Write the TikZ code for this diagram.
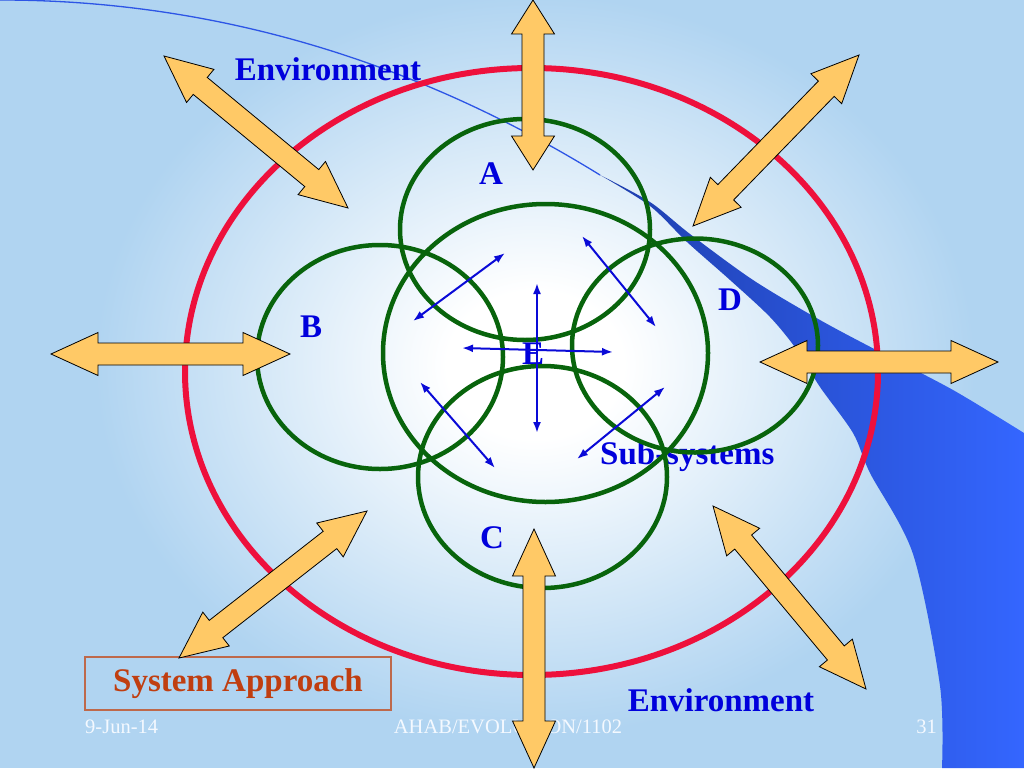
\documentclass[tikz,border=0pt]{standalone}
\usepackage{fontspec}
\setmainfont{Liberation Serif}
\usetikzlibrary{calc,arrows.meta}
\definecolor{bgblue}{RGB}{176,212,241}
\definecolor{ringred}{RGB}{238,16,60}
\definecolor{ringgreen}{RGB}{8,100,12}
\definecolor{arrfill}{RGB}{255,201,102}
\definecolor{lblblue}{RGB}{0,0,220}
\definecolor{smallblue}{RGB}{10,10,215}
\definecolor{banddark}{RGB}{30,62,172}
\definecolor{bandbright}{RGB}{52,102,255}
\definecolor{thinblue}{RGB}{45,85,230}
\definecolor{sysred}{RGB}{192,62,16}
\definecolor{sysbox}{RGB}{190,105,75}
\definecolor{footcol}{RGB}{244,249,255}
\pgfdeclareradialshading{bgglow}{\pgfpoint{0bp}{0bp}}{color(0bp)=(white); color(5bp)=(white); color(25bp)=(bgblue); color(50bp)=(bgblue)}
\tikzset{
  lbl/.style={text=lblblue, font=\bfseries\fontsize{33}{36}\selectfont, inner sep=0pt, anchor=base},
  foot/.style={text=footcol, font=\fontsize{20.5}{22}\selectfont, inner sep=0pt, anchor=base},
  redring/.style={draw=ringred, line width=6pt},
  greenring/.style={draw=ringgreen, line width=4.5pt},
  fatarrow/.style={fill=arrfill, draw=black, line width=0.8pt, line join=miter},
  smallarr/.style={draw=smallblue, line width=2pt, {Latex[length=11pt,width=8pt]}-{Latex[length=11pt,width=8pt]}},
}
\newcommand{\fatarrow}[3][47pt]{%
  \filldraw[fatarrow] (#2) -- ($(#2)!#1!(#3)!21.5pt!90:(#3)$) -- ($(#2)!#1!(#3)!11pt!90:(#3)$)
   -- ($(#3)!#1!(#2)!11pt!-90:(#2)$) -- ($(#3)!#1!(#2)!21.5pt!-90:(#2)$) -- (#3)
   -- ($(#3)!#1!(#2)!21.5pt!90:(#2)$) -- ($(#3)!#1!(#2)!11pt!90:(#2)$)
   -- ($(#2)!#1!(#3)!11pt!-90:(#3)$) -- ($(#2)!#1!(#3)!21.5pt!-90:(#3)$) -- cycle;}
\begin{document}
\begin{tikzpicture}[x=1pt,y=-1pt]
\useasboundingbox (0,0) rectangle (1024,768);
\clip (0,0) rectangle (1024,768);
% background
\fill[bgblue] (0,0) rectangle (1024,768);
\shade[shading=bgglow] (535,365) ellipse [x radius=440, y radius=370];
% swoosh
\draw[thinblue, line width=1.3pt] (0,0) .. controls (230,0) and (430,70) .. (600,175);
\shade[left color=banddark, right color=bandbright]
  plot[smooth] coordinates {(600,175) (650,202) (690,234) (753,280) (820,320) (880,352) (953,390) (1024,433)}
  -- (1024,768) -- (942,768)
  -- plot[smooth] coordinates {(942,768) (940,686) (913,554) (870,473) (853,433) (820,387) (797,350) (770,317) (730,280) (687,242) (650,206) (600,175)}
  -- cycle;
% footer
\node[foot, anchor=base west] (date) at (85,733) {9-Jun-14};
\node[foot] (code) at (508,733) {AHAB/EVOLUTION/1102};
\node[foot, anchor=base east] (page) at (937,733) {31};
% labels
\node[lbl] (envtop) at (328,81) {Environment};
\node[lbl] (envbot) at (721,711) {Environment};
\node[lbl] (la) at (491,184) {A};
\node[lbl] (lb) at (311,337) {B};
\node[lbl] (lc) at (492,548) {C};
\node[lbl] (ld) at (730,310) {D};
\node[lbl] (le) at (533,364) {E};
\node[lbl, anchor=base west] (sub) at (600,464) {Sub-systems};
% rings
\draw[redring] (531.5,371.5) ellipse [x radius=346.5, y radius=303.5];
\draw[greenring] (525,229.5) ellipse [x radius=125, y radius=110.5];
\draw[greenring] (380,357) ellipse [x radius=123, y radius=112];
\draw[greenring] (695,345.5) ellipse [x radius=123, y radius=107];
\draw[greenring] (542.5,477) ellipse [x radius=124.5, y radius=111];
\draw[greenring] (545.5,353) ellipse [x radius=162.5, y radius=149];
% small arrows
\coordinate (s1a) at (505,253); \coordinate (s1b) at (413,321);
\coordinate (s2a) at (582,236); \coordinate (s2b) at (656,327);
\coordinate (s3a) at (537,283); \coordinate (s3b) at (537,433);
\coordinate (s4a) at (462,348); \coordinate (s4b) at (613,352);
\coordinate (s5a) at (420,382); \coordinate (s5b) at (495,468);
\coordinate (s6a) at (665,387); \coordinate (s6b) at (577,459);
\draw[smallarr] (s1a) -- (s1b);
\draw[smallarr] (s2a) -- (s2b);
\draw[smallarr] (s3a) -- (s3b);
\draw[smallarr] (s4a) -- (s4b);
\draw[smallarr] (s5a) -- (s5b);
\draw[smallarr] (s6a) -- (s6b);
% system approach box
\node[draw=sysbox, line width=1.2pt, text=sysred, font=\bfseries\fontsize{33}{36}\selectfont,
      minimum width=306pt, minimum height=53pt, inner sep=0pt] (sys) at (238,683.5) {System Approach};
% fat arrows
\coordinate (f1a) at (533,0);   \coordinate (f1b) at (533,170);
\coordinate (f2a) at (164,56);  \coordinate (f2b) at (348,208);
\coordinate (f3a) at (859,55);  \coordinate (f3b) at (693,226);
\coordinate (f4a) at (51,354);  \coordinate (f4b) at (290,354);
\coordinate (f5a) at (760,362); \coordinate (f5b) at (998,362);
\coordinate (f6a) at (367,511); \coordinate (f6b) at (179,658);
\coordinate (f7a) at (534,529); \coordinate (f7b) at (534,768);
\coordinate (f8a) at (713,506); \coordinate (f8b) at (866,689);
\fatarrow[34pt]{f1a}{f1b}
\fatarrow{f2a}{f2b}
\fatarrow{f3a}{f3b}
\fatarrow{f4a}{f4b}
\fatarrow{f5a}{f5b}
\fatarrow{f6a}{f6b}
\fatarrow{f7a}{f7b}
\fatarrow{f8a}{f8b}
\end{tikzpicture}
\end{document}
